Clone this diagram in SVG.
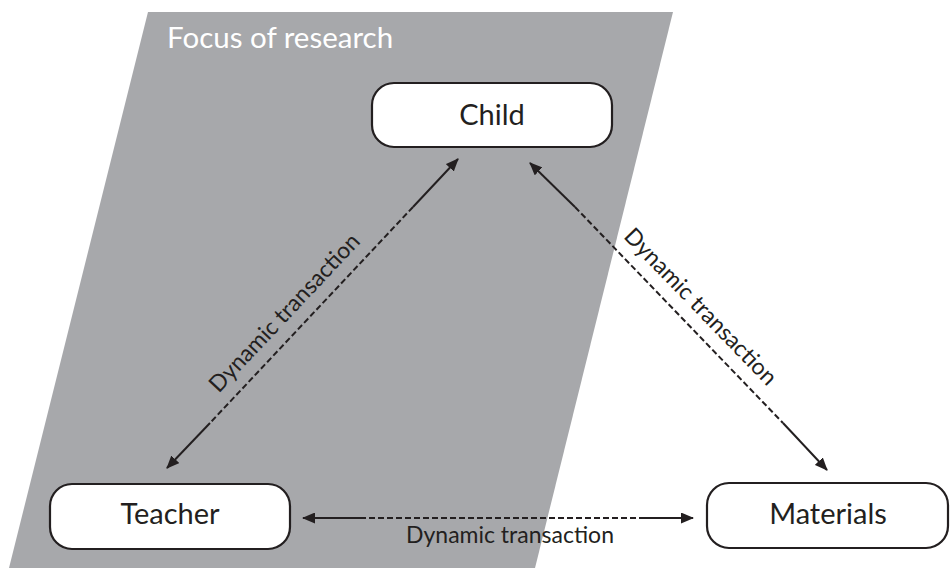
<svg xmlns="http://www.w3.org/2000/svg" width="951" height="568" viewBox="0 0 951 568">
<style>
.node rect{fill:#ffffff;stroke:#231f20;stroke-width:2.2}
.node text{font-family:Lato,"Open Sans",sans-serif;font-size:29px;fill:#231f20;text-anchor:middle}
.edge path{fill:none;stroke:#231f20;stroke-width:2}
.edge .dash{stroke-dasharray:6 3}
.lbl{font-family:Lato,"Open Sans",sans-serif;font-size:23px;fill:#231f20;text-anchor:middle}
.focus{font-family:Lato,"Open Sans",sans-serif;font-size:29.5px;fill:#ffffff}
</style>
<defs>
<marker id="ah" viewBox="0 0 13 11" refX="12" refY="5.5" markerWidth="13" markerHeight="11" markerUnits="userSpaceOnUse" orient="auto">
<path d="M0,0 L13,5.5 L0,11 z" fill="#231f20"/>
</marker>
</defs>
<g id="focus-area">
<polygon points="148,12 673,12 535,568 9,568" fill="#a7a8ab"/>
<text class="focus" x="167" y="48">Focus of research</text>
</g>
<g id="connectors">
<g class="edge" id="edge-teacher-child">
<path class="dash" d="M413,207 L210,423"/>
<path d="M413,207 L458,159" marker-end="url(#ah)"/>
<path d="M210,423 L167,468" marker-end="url(#ah)"/>
<text class="lbl" transform="translate(290,318) rotate(-46.7)">Dynamic transaction</text>
</g>
<g class="edge" id="edge-child-materials">
<path class="dash" d="M575,207 L783,423"/>
<path d="M575,207 L530,163" marker-end="url(#ah)"/>
<path d="M783,423 L827,470" marker-end="url(#ah)"/>
<text class="lbl" transform="translate(695,312) rotate(45.9)">Dynamic transaction</text>
</g>
<g class="edge" id="edge-teacher-materials">
<path class="dash" d="M360,518 L640,518"/>
<path d="M360,518 L303,518" marker-end="url(#ah)"/>
<path d="M640,518 L693,518" marker-end="url(#ah)"/>
<text class="lbl" x="510" y="543">Dynamic transaction</text>
</g>
</g>
<g id="node-child" class="node">
<rect x="372" y="83" width="240" height="64" rx="22"/>
<text x="492" y="125">Child</text>
</g>
<g id="node-teacher" class="node">
<rect x="50" y="484" width="240" height="65" rx="22"/>
<text x="170" y="524">Teacher</text>
</g>
<g id="node-materials" class="node">
<rect x="707" y="483" width="241" height="65" rx="22"/>
<text x="828" y="524">Materials</text>
</g>
</svg>
